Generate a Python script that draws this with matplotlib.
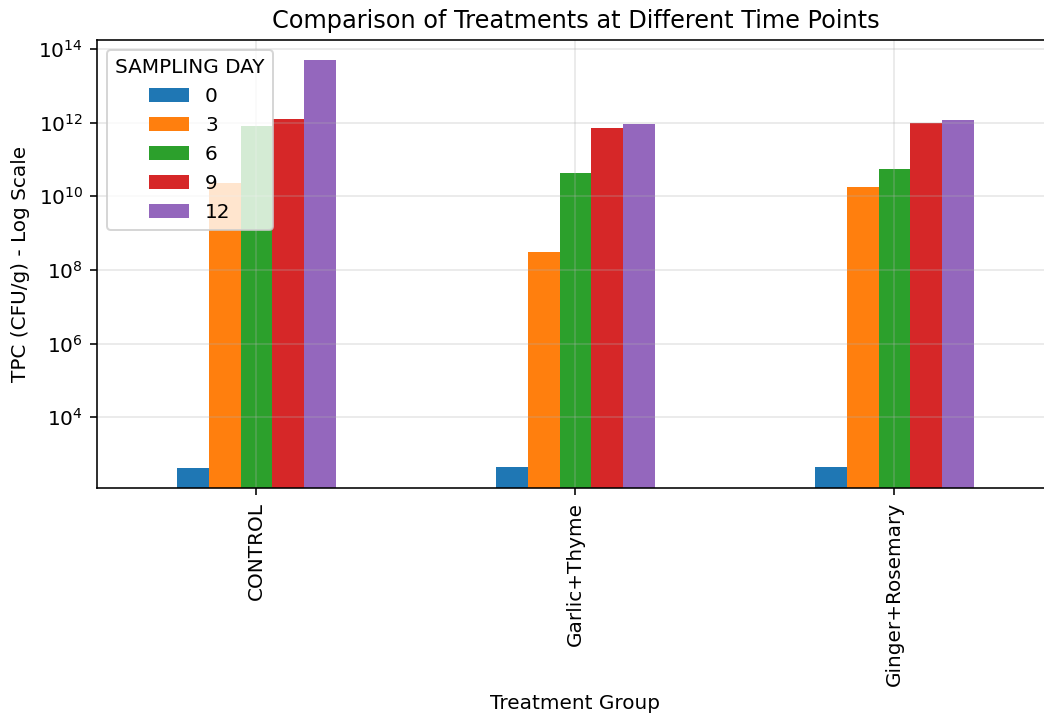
import matplotlib

matplotlib.use("Agg")
import matplotlib.pyplot as plt
import numpy as np

# TPC (CFU/g), one list per sampling day
groups = ["CONTROL", "Garlic+Thyme", "Ginger+Rosemary"]
days = ["0", "3", "6", "9", "12"]
day0 = [430, 440, 460]
day3 = [2.3e10, 3.0e8, 1.8e10]
day6 = [7.9e11, 4.3e10, 5.6e10]
day9 = [1.25e12, 6.9e11, 1.0e12]
day12 = [4.9e13, 9.3e11, 1.2e12]
series = [day0, day3, day6, day9, day12]
colors = ["#1f77b4", "#ff7f0e", "#2ca02c", "#d62728", "#9467bd"]

DPI = 144
fig = plt.figure(figsize=(1044 / DPI, 715 / DPI), dpi=DPI)
# the reference is cropped on the right, so the axes run past the figure edge
ax = fig.add_axes([97 / 1044, 1 - 488 / 715, (1054 - 97) / 1044, (488 - 40) / 715])

x = np.arange(len(groups))
width = 0.1
for i, (label, values) in enumerate(zip(days, series)):
    offset = (i - (len(days) - 1) / 2) * width
    ax.bar(x + offset, values, width, label=label, color=colors[i])

ax.set_yscale("log")
ax.set_ylim(10 ** 2.08, 10 ** 14.24)
ax.set_xlim(-0.5, len(groups) - 0.5)
ax.set_xticks(x)
ax.set_xticklabels(groups, rotation=90)
ax.set_xlabel("Treatment Group")
ax.set_ylabel("TPC (CFU/g) - Log Scale")
ax.set_title("Comparison of Treatments at Different Time Points")
ax.grid(True, alpha=0.3)
ax.spines["right"].set_visible(False)
ax.legend(title="SAMPLING DAY", loc="upper left")

fig.savefig("out.png", dpi=DPI)
plt.close(fig)
